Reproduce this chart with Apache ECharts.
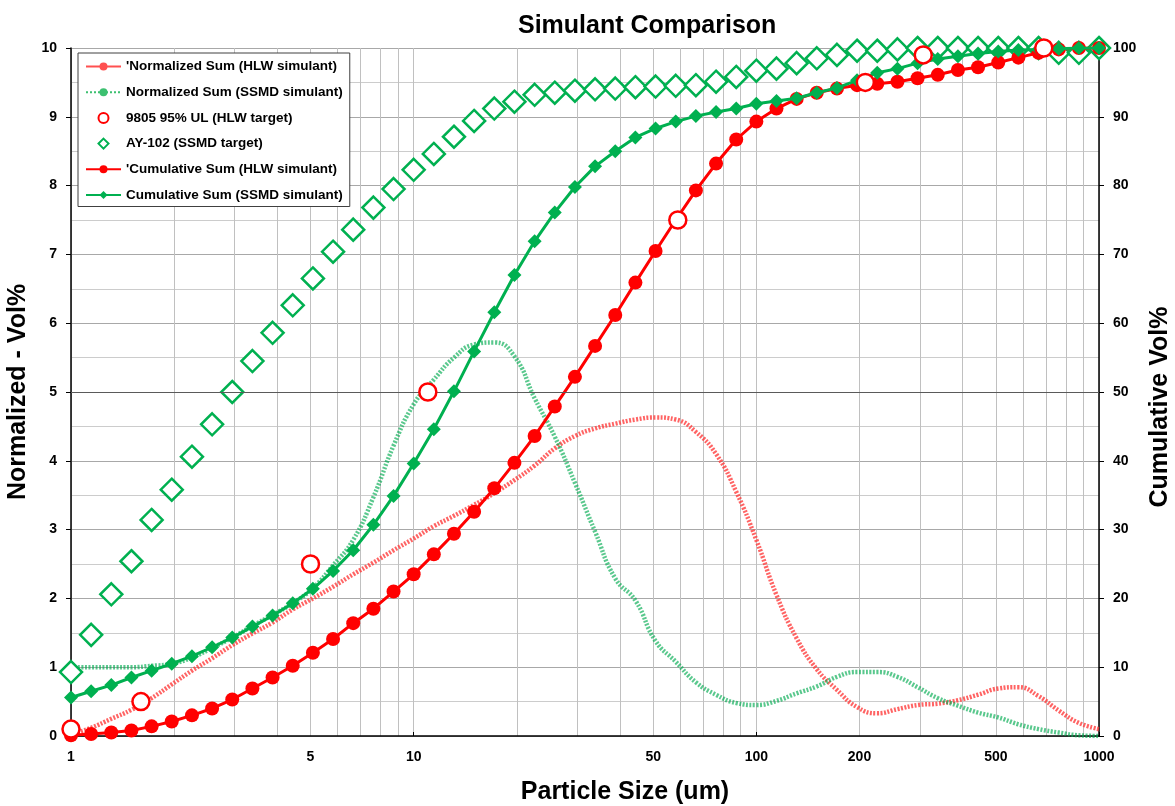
<!DOCTYPE html>
<html>
<head>
<meta charset="utf-8">
<title>Simulant Comparison</title>
<script src="https://cdn.jsdelivr.net/npm/echarts@6/dist/echarts.min.js"></script>
<style>
  html, body { margin: 0; padding: 0; background: #fff; }
  #chart { width: 1175px; height: 806px; }
</style>
</head>
<body>
<div id="chart"></div>
<script>
// particle size channels (um)
const sizes = [1, 1.145, 1.311, 1.501, 1.719, 1.968, 2.254, 2.581, 2.955, 3.384, 3.875, 4.437, 5.081,
  5.818, 6.662, 7.629, 8.736, 10.0, 11.45, 13.11, 15.01, 17.19, 19.68, 22.54, 25.81, 29.55, 33.84,
  38.75, 44.37, 50.81, 58.18, 66.62, 76.29, 87.36, 100, 114.5, 131.1, 150.1, 171.9, 196.8, 225.4,
  258.1, 295.5, 338.4, 387.5, 443.7, 508.1, 581.8, 666.2, 762.9, 873.6, 1000];

// normalized vol% (left axis)
const normHlw = [0.02, 0.12, 0.25, 0.38, 0.55, 0.75, 0.95, 1.13, 1.32, 1.49, 1.65, 1.84, 2.0,
  2.17, 2.35, 2.52, 2.7, 2.87, 3.05, 3.2, 3.36, 3.53, 3.72, 3.93, 4.18, 4.36, 4.47,
  4.54, 4.6, 4.63, 4.6, 4.42, 4.1, 3.55, 2.85, 2.05, 1.42, 0.97, 0.67, 0.42, 0.33,
  0.39, 0.45, 0.47, 0.52, 0.6, 0.69, 0.71, 0.58, 0.37, 0.19, 0.1];
const normSsmd = [1.0, 1.0, 1.0, 1.0, 1.02, 1.05, 1.14, 1.28, 1.43, 1.6, 1.76, 1.93, 2.15,
  2.48, 2.85, 3.47, 4.22, 4.82, 5.18, 5.5, 5.69, 5.72, 5.52, 4.91, 4.35, 3.68, 2.97,
  2.29, 1.97, 1.38, 1.08, 0.78, 0.6, 0.48, 0.45, 0.51, 0.62, 0.72, 0.86, 0.93, 0.93,
  0.86, 0.71, 0.55, 0.44, 0.34, 0.27, 0.17, 0.1, 0.05, 0.01, 0];

// cumulative vol% (right axis)
const cumHlw = [0.1, 0.3, 0.5, 0.8, 1.4, 2.1, 3.0, 4.0, 5.3, 6.9, 8.5, 10.2, 12.1,
  14.1, 16.4, 18.5, 21.0, 23.5, 26.4, 29.4, 32.6, 36.0, 39.7, 43.6, 47.9, 52.2, 56.7,
  61.2, 65.9, 70.5, 75.0, 79.3, 83.2, 86.7, 89.3, 91.2, 92.6, 93.5, 94.1, 94.6, 94.8,
  95.1, 95.6, 96.1, 96.8, 97.2, 97.9, 98.6, 99.3, 99.8, 100, 100];
const cumSsmd = [5.6, 6.5, 7.4, 8.5, 9.5, 10.5, 11.6, 12.9, 14.3, 15.9, 17.5, 19.3, 21.4,
  24.0, 27.0, 30.7, 34.9, 39.6, 44.6, 50.1, 55.9, 61.6, 67.0, 71.9, 76.1, 79.8, 82.8,
  85.0, 87.0, 88.3, 89.3, 90.1, 90.7, 91.2, 91.9, 92.3, 92.7, 93.5, 94.2, 95.3, 96.4,
  97.0, 97.8, 98.4, 98.8, 99.2, 99.5, 99.7, 99.8, 99.9, 100, 100];
const ay102Target = [9.3, 14.7, 20.6, 25.4, 31.4, 35.8, 40.6, 45.3, 50.0, 54.5, 58.6, 62.6, 66.5,
  70.4, 73.6, 76.8, 79.5, 82.3, 84.6, 87.1, 89.4, 91.2, 92.2, 93.2, 93.5, 93.8, 94.0,
  94.1, 94.3, 94.4, 94.5, 94.6, 95.1, 95.8, 96.7, 97.0, 97.8, 98.5, 99.0, 99.6, 99.6,
  99.8, 100, 100, 100, 100, 100, 100, 100, 99.3, 99.3, 100];

// 9805 95% UL (HLW target)
const hlwTargetSize = [1, 1.6, 5, 11, 59, 208, 307, 690];
const hlwTargetCum = [1, 5, 25, 50, 75, 95, 99, 100];

// axis ticks
const xLabelValues = [1, 5, 10, 50, 100, 200, 500, 1000];
const xMajorTicks = [1, 10, 100, 1000];
const xGridValues = [1, 2, 3, 4, 5, 6, 7, 8, 9, 10, 20, 30, 40, 50, 60, 70, 80, 90,
  100, 200, 300, 400, 500, 600, 700, 800, 900, 1000];

const names = [
  "'Normalized Sum (HLW simulant)",
  'Normalized Sum (SSMD simulant)',
  '9805 95% UL (HLW target)',
  'AY-102 (SSMD target)',
  "'Cumulative Sum (HLW simulant)",
  'Cumulative Sum (SSMD simulant)'
];

const font = 'Liberation Sans, Arial, sans-serif';
const RED = '#ff0000';
const GREEN = '#00b050';
const pairs = (xs, ys) => xs.map((x, i) => [x, ys[i]]);
const boldText = (size) => ({ fontSize: size, fontWeight: 'bold', color: '#000', fontFamily: font });

const chart = echarts.init(document.getElementById('chart'));

chart.setOption({
  animation: false,
  backgroundColor: '#fff',
  title: {
    text: 'Simulant Comparison',
    left: 513,
    top: 9,
    textStyle: boldText(25)
  },
  grid: { left: 71, right: 76, top: 48, bottom: 70, containLabel: false, outerBoundsMode: 'none' },
  legend: {
    orient: 'vertical',
    left: 78,
    top: 53,
    itemWidth: 35,
    itemHeight: 10,
    itemGap: 10.7,
    padding: [6, 7, 4, 7],
    backgroundColor: '#fff',
    borderColor: '#404040',
    borderWidth: 1,
    symbolKeepAspect: true,
    textStyle: Object.assign(boldText(13.5), { lineHeight: 15 }),
    data: [
      { name: names[0], lineStyle: { width: 2, type: 'solid', color: '#ff5050' } },
      { name: names[1], lineStyle: { width: 2, type: 'dotted', color: '#3cc070' } },
      { name: names[2] },
      { name: names[3], icon: 'path://M5,0L10,5L5,10L0,5Z' },
      { name: names[4] },
      { name: names[5] }
    ]
  },
  xAxis: [
    {
      type: 'log',
      logBase: 10,
      min: 1,
      max: 1000,
      position: 'bottom',
      axisLine: { show: true, lineStyle: { color: '#000', width: 1.5 } },
      axisTick: { show: true, inside: true, length: 4, customValues: xMajorTicks, lineStyle: { color: '#000' } },
      axisLabel: Object.assign({ customValues: xLabelValues, margin: 14, formatter: (v) => String(v) }, boldText(14)),
      splitLine: { show: false },
      minorTick: { show: false },
      name: 'Particle Size (um)',
      nameLocation: 'middle',
      nameGap: 44,
      nameTextStyle: Object.assign({ padding: [0, 0, 0, 80] }, boldText(25))
    },
    {
      // only carries the log grid lines
      type: 'log',
      logBase: 10,
      min: 1,
      max: 1000,
      position: 'bottom',
      axisLine: { show: false },
      axisTick: { show: false, customValues: xGridValues },
      axisLabel: { show: false },
      splitLine: { show: true, lineStyle: { color: '#c0c0c0', width: 1 } }
    }
  ],
  yAxis: [
    {
      type: 'value',
      min: 0,
      max: 10,
      interval: 1,
      position: 'left',
      axisLine: { show: true, lineStyle: { color: '#000', width: 1.5 } },
      axisTick: { show: true, length: 5, lineStyle: { color: '#000' } },
      axisLabel: Object.assign({ margin: 14 }, boldText(14)),
      splitLine: { show: true, lineStyle: { color: '#a8a8a8', width: 1 } },
      minorTick: { show: false, splitNumber: 2 },
      minorSplitLine: { show: true, lineStyle: { color: '#cccccc', width: 1 } },
      name: 'Normalized - Vol%',
      nameLocation: 'middle',
      nameGap: 30,
      nameRotate: 90,
      nameTextStyle: boldText(25)
    },
    {
      type: 'value',
      min: 0,
      max: 100,
      interval: 10,
      position: 'right',
      axisLine: { show: true, lineStyle: { color: '#000', width: 1.5 } },
      axisTick: { show: true, length: 5, lineStyle: { color: '#000' } },
      axisLabel: Object.assign({ margin: 14 }, boldText(14)),
      splitLine: { show: false },
      name: 'Cumulative Vol%',
      nameLocation: 'middle',
      nameGap: 49,
      nameRotate: 90,
      nameTextStyle: Object.assign({ padding: [0, 30, 0, 0] }, boldText(25))
    }
  ],
  series: [
    {
      name: names[0],
      type: 'line',
      xAxisIndex: 0,
      yAxisIndex: 0,
      data: pairs(sizes, normHlw),
      smooth: true,
      symbol: 'none',
      lineStyle: { color: 'rgba(255,60,60,0.8)', width: 4.5, type: [2, 1.5] },
      itemStyle: { color: '#ff5050' },
      z: 2,
      markLine: {
        silent: true,
        symbol: ['none', 'none'],
        label: { show: false },
        lineStyle: { color: '#5a5a5a', width: 1, type: 'solid' },
        data: [{ yAxis: 5 }]
      }
    },
    {
      name: names[1],
      type: 'line',
      xAxisIndex: 0,
      yAxisIndex: 0,
      data: pairs(sizes, normSsmd),
      smooth: true,
      symbol: 'none',
      lineStyle: { color: 'rgba(0,170,80,0.65)', width: 4.5, type: [2, 1.5] },
      itemStyle: { color: '#3cc070' },
      z: 2
    },
    {
      name: names[2],
      type: 'scatter',
      xAxisIndex: 0,
      yAxisIndex: 1,
      data: pairs(hlwTargetSize, hlwTargetCum),
      symbol: 'circle',
      symbolSize: 17,
      symbolKeepAspect: true,
      itemStyle: { color: '#fff', borderColor: RED, borderWidth: 2.5, opacity: 1 },
      z: 7
    },
    {
      name: names[3],
      type: 'scatter',
      xAxisIndex: 0,
      yAxisIndex: 1,
      data: pairs(sizes, ay102Target),
      symbol: 'diamond',
      symbolSize: 22,
      symbolKeepAspect: true,
      itemStyle: { color: '#fff', borderColor: GREEN, borderWidth: 2.5, opacity: 1 },
      z: 3
    },
    {
      name: names[4],
      type: 'line',
      xAxisIndex: 0,
      yAxisIndex: 1,
      data: pairs(sizes, cumHlw),
      symbol: 'circle',
      symbolSize: 14,
      showAllSymbol: true,
      lineStyle: { color: RED, width: 3 },
      itemStyle: { color: RED },
      z: 4
    },
    {
      name: names[5],
      type: 'line',
      xAxisIndex: 0,
      yAxisIndex: 1,
      data: pairs(sizes, cumSsmd),
      symbol: 'diamond',
      symbolSize: 14,
      showAllSymbol: true,
      lineStyle: { color: GREEN, width: 3 },
      itemStyle: { color: GREEN },
      z: 5
    }
  ]
});
</script>
</body>
</html>
